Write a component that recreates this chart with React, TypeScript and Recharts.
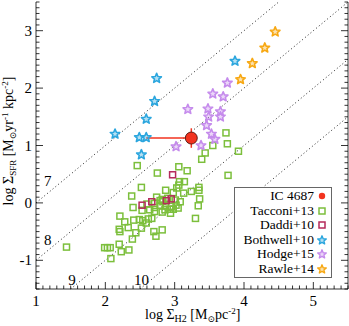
import React from 'react';
import { ScatterChart, Scatter, XAxis, YAxis, ReferenceLine, ReferenceDot, ErrorBar, Legend } from 'recharts';

const FONT = '"Liberation Serif", "DejaVu Serif", serif';

// IC 4687 (with asymmetric x error towards lower gas density)
const ic4687 = [{ x: 3.24, y: 1.13, ex: [0.65, 0], ey: 0.17 }];

const tacconi = [
  { x: 3.92, y: 0.9 }, { x: 3.74, y: 1.22 }, { x: 3.76, y: 1.03 }, { x: 3.55, y: 1.0 }, { x: 3.44, y: 0.87 },
  { x: 3.39, y: 0.76 }, { x: 3.77, y: 0.48 }, { x: 3.06, y: 0.63 }, { x: 3.18, y: 0.56 }, { x: 2.75, y: 0.52 },
  { x: 2.46, y: 0.65 }, { x: 3.14, y: 0.37 }, { x: 3.06, y: 0.31 }, { x: 3.03, y: 0.26 }, { x: 3.35, y: 0.27 },
  { x: 3.35, y: 0.22 }, { x: 3.24, y: 0.2 }, { x: 3.13, y: 0.17 }, { x: 2.98, y: 0.18 }, { x: 2.87, y: 0.22 },
  { x: 2.52, y: 0.27 }, { x: 2.38, y: 0.12 }, { x: 2.74, y: 0.1 }, { x: 2.79, y: 0.04 }, { x: 2.83, y: 0.02 },
  { x: 3.01, y: 0.05 }, { x: 3.08, y: 0.02 }, { x: 3.36, y: 0.07 }, { x: 2.71, y: -0.01 }, { x: 2.79, y: -0.04 },
  { x: 2.87, y: -0.05 }, { x: 2.95, y: -0.06 }, { x: 3.02, y: -0.04 }, { x: 3.34, y: -0.05 }, { x: 2.71, y: -0.08 },
  { x: 2.86, y: -0.12 }, { x: 2.93, y: -0.11 }, { x: 2.98, y: -0.11 }, { x: 2.4, y: -0.08 }, { x: 2.53, y: -0.13 },
  { x: 2.71, y: -0.15 }, { x: 2.82, y: -0.16 }, { x: 2.94, y: -0.18 }, { x: 3.3, y: -0.27 }, { x: 2.67, y: -0.27 },
  { x: 2.21, y: -0.23 }, { x: 2.28, y: -0.33 }, { x: 2.41, y: -0.3 }, { x: 2.49, y: -0.29 }, { x: 2.54, y: -0.31 },
  { x: 2.59, y: -0.35 }, { x: 2.62, y: -0.28 }, { x: 2.2, y: -0.46 }, { x: 2.21, y: -0.5 }, { x: 2.33, y: -0.43 },
  { x: 2.44, y: -0.52 }, { x: 2.52, y: -0.44 }, { x: 2.7, y: -0.5 }, { x: 2.82, y: -0.47 }, { x: 2.73, y: -0.58 },
  { x: 2.39, y: -0.63 }, { x: 2.2, y: -0.72 }, { x: 1.44, y: -0.77 }, { x: 1.99, y: -0.78 }, { x: 2.03, y: -0.78 },
  { x: 2.07, y: -0.78 }, { x: 2.34, y: -0.82 }, { x: 2.23, y: -0.85 }, { x: 2.08, y: -0.97 }, { x: 2.82, y: 0.06 },
  { x: 3.07, y: 0.37 }, { x: 3.05, y: -0.09 }, { x: 2.64, y: -0.12 }, { x: 2.6, y: -0.02 }, { x: 2.9, y: 0.08 },
];

const daddi = [
  { x: 2.53, y: -0.04 }, { x: 2.97, y: 0.49 }, { x: 2.67, y: 0.02 }, { x: 2.88, y: 0.04 }, { x: 2.95, y: 0.07 },
];

const bothwell = [
  { x: 2.74, y: 2.17 }, { x: 2.71, y: 1.77 }, { x: 2.59, y: 1.46 }, { x: 2.14, y: 1.2 }, { x: 2.49, y: 1.14 },
  { x: 2.59, y: 1.14 }, { x: 2.52, y: 0.84 }, { x: 3.87, y: 2.47 },
];

const hodge = [
  { x: 3.76, y: 2.09 }, { x: 3.55, y: 1.9 }, { x: 3.7, y: 1.85 }, { x: 3.19, y: 1.63 }, { x: 3.48, y: 1.64 },
  { x: 3.66, y: 1.59 }, { x: 3.49, y: 1.5 }, { x: 3.66, y: 1.5 }, { x: 3.46, y: 1.35 }, { x: 3.53, y: 1.2 },
  { x: 3.58, y: 1.11 }, { x: 3.38, y: 1.0 }, { x: 3.02, y: 0.98 },
];

const rawle = [
  { x: 4.45, y: 2.98 }, { x: 4.3, y: 2.7 }, { x: 4.12, y: 2.43 }, { x: 3.95, y: 2.15 },
];

// constant depletion time lines, log t_dep [yr]
const depletionLines = [
  { label: '7', from: { x: 1, y: 0 }, to: { x: 4.5, y: 3.5 }, at: { x: 1.17, y: 0.38 } },
  { label: '8', from: { x: 1, y: -1 }, to: { x: 5.5, y: 3.5 }, at: { x: 1.17, y: -0.65 } },
  { label: '9', from: { x: 1.5, y: -1.5 }, to: { x: 5.5, y: 2.5 }, at: { x: 1.52, y: -1.34 } },
  { label: '10', from: { x: 2.5, y: -1.5 }, to: { x: 5.5, y: 1.5 }, at: { x: 2.52, y: -1.34 } },
];

const xTicks = Array.from({ length: 46 }, (_, i) => Math.round((1 + i * 0.1) * 10) / 10);
const yTicks = Array.from({ length: 51 }, (_, i) => Math.round((-1.5 + i * 0.1) * 10) / 10);

const isMajor = (v: number) => Math.abs(v - Math.round(v)) < 1e-6;

const starPath = (cx: number, cy: number, R: number, r: number) => {
  let d = '';
  for (let i = 0; i < 10; i++) {
    const rad = i % 2 === 0 ? R : r;
    const a = -Math.PI / 2 + (i * Math.PI) / 5;
    d += (i === 0 ? 'M' : 'L') + (cx + rad * Math.cos(a)).toFixed(2) + ',' + (cy + rad * Math.sin(a)).toFixed(2);
  }
  return d + 'Z';
};

const Star = (color: string, R = 5) => (props: any) => {
  const { cx, cy } = props;
  if (cx == null || cy == null) return <g />;
  return <path d={starPath(cx, cy, R, R * 0.45)} fill={color} fillOpacity={0.35} stroke={color} strokeWidth={1.6} strokeLinejoin="round" />;
};

const Square = (color: string, s = 6) => (props: any) => {
  const { cx, cy } = props;
  if (cx == null || cy == null) return <g />;
  return <rect x={cx - s / 2} y={cy - s / 2} width={s} height={s} fill="none" stroke={color} strokeWidth={1.5} />;
};

const Dot = (props: any) => {
  const { cx, cy } = props;
  if (cx == null || cy == null) return <g />;
  return <circle cx={cx} cy={cy} r={6} fill="#f2331f" stroke="#3a0a05" strokeWidth={0.8} />;
};

const series = [
  { name: 'IC 4687', color: '#f2331f', kind: 'circle' },
  { name: 'Tacconi+13', color: '#7cbf3c', kind: 'square' },
  { name: 'Daddi+10', color: '#b52a5b', kind: 'square' },
  { name: 'Bothwell+10', color: '#2ba6de', kind: 'star' },
  { name: 'Hodge+15', color: '#c58bec', kind: 'star' },
  { name: 'Rawle+14', color: '#f7a813', kind: 'star' },
];

const BottomTick = (props: any) => {
  const { x, y, payload } = props;
  const v = payload.value;
  const major = isMajor(v);
  return (
    <g>
      <line x1={x} x2={x} y1={y} y2={y - (major ? 7 : 3.5)} stroke="#000" strokeWidth={0.8} />
      {major && (
        <text x={x} y={y + 17} textAnchor="middle" fontSize={15} fontFamily={FONT} fill="#000">{v}</text>
      )}
    </g>
  );
};

const TopTick = (props: any) => {
  const { x, y, payload } = props;
  const major = isMajor(payload.value);
  return <line x1={x} x2={x} y1={y} y2={y + (major ? 7 : 3.5)} stroke="#000" strokeWidth={0.8} />;
};

const LeftTick = (props: any) => {
  const { x, y, payload } = props;
  const v = payload.value;
  const major = isMajor(v);
  return (
    <g>
      <line x1={x} x2={x + (major ? 7 : 3.5)} y1={y} y2={y} stroke="#000" strokeWidth={0.8} />
      {major && (
        <text x={x - 4} y={y + 5} textAnchor="end" fontSize={15} fontFamily={FONT} fill="#000">{v}</text>
      )}
    </g>
  );
};

const RightTick = (props: any) => {
  const { x, y, payload } = props;
  const major = isMajor(payload.value);
  return <line x1={x} x2={x - (major ? 7 : 3.5)} y1={y} y2={y} stroke="#000" strokeWidth={0.8} />;
};

const XTitle = () => (
  <text x={145} y={319} fontSize={14} fontFamily={FONT} fill="#000">
    log Σ<tspan dy={3} fontSize={10}>H2</tspan>
    <tspan dy={-3}>{'  [M'}</tspan>
    <tspan dy={3} fontSize={9}>⊙</tspan>
    <tspan dy={-3}>pc</tspan>
    <tspan dy={-5} fontSize={9}>-2</tspan>
    <tspan dy={5}>]</tspan>
  </text>
);

const YTitle = () => (
  <text x={13} y={141} transform="rotate(-90, 13, 141)" textAnchor="middle" fontSize={14} fontFamily={FONT} fill="#000">
    log Σ<tspan dy={3} fontSize={9}>SFR</tspan>
    <tspan dy={-3}>{' [M'}</tspan>
    <tspan dy={3} fontSize={9}>⊙</tspan>
    <tspan dy={-3}>yr</tspan>
    <tspan dy={-5} fontSize={9}>-1</tspan>
    <tspan dy={5}> kpc</tspan>
    <tspan dy={-5} fontSize={9}>-2</tspan>
    <tspan dy={5}>]</tspan>
  </text>
);

const LegendIcon = ({ kind, color }: { kind: string; color: string }) => (
  <svg width={12} height={12} style={{ display: 'block', flex: 'none' }}>
    {kind === 'circle' && <circle cx={6} cy={6} r={3.2} fill={color} />}
    {kind === 'square' && <rect x={3} y={3} width={6} height={6} fill="none" stroke={color} strokeWidth={1.5} />}
    {kind === 'star' && (
      <path d={starPath(6, 6.3, 4.5, 2)} fill={color} fillOpacity={0.35} stroke={color} strokeWidth={1.4} strokeLinejoin="round" />
    )}
  </svg>
);

const LegendBox = () => (
  <div
    style={{
      border: '1px solid #666',
      background: '#fff',
      width: 96,
      padding: '1px 0 1px 0',
      fontFamily: FONT,
      fontSize: 13.5,
      color: '#000',
    }}
  >
    {series.map((s) => (
      <div
        key={s.name}
        style={{ display: 'flex', alignItems: 'center', justifyContent: 'flex-end', height: 14.5, lineHeight: '14.5px', paddingRight: 3 }}
      >
        <span style={{ marginRight: 2, whiteSpace: 'nowrap' }}>{s.name}</span>
        <LegendIcon kind={s.kind} color={s.color} />
      </div>
    ))}
  </div>
);

export default function App() {
  return (
    <div>
      <style>{'body{margin:0}'}</style>
      <ScatterChart width={349} height={326} margin={{ top: 2, right: 0, bottom: 0, left: 0 }}>
        <XAxis
          type="number"
          dataKey="x"
          domain={[1, 5.5]}
          ticks={xTicks}
          interval={0}
          allowDataOverflow
          height={37}
          tickSize={0}
          tickMargin={0}
          tickLine={false}
          axisLine={{ stroke: '#000', strokeWidth: 0.8 }}
          tick={<BottomTick />}
          label={<XTitle />}
        />
        <XAxis
          xAxisId="top"
          orientation="top"
          type="number"
          dataKey="x"
          domain={[1, 5.5]}
          ticks={xTicks}
          interval={0}
          allowDataOverflow
          height={0}
          tickSize={0}
          tickMargin={0}
          tickLine={false}
          axisLine={{ stroke: '#000', strokeWidth: 0.8 }}
          tick={<TopTick />}
        />
        <YAxis
          type="number"
          dataKey="y"
          domain={[-1.5, 3.5]}
          ticks={yTicks}
          interval={0}
          allowDataOverflow
          width={36}
          tickSize={0}
          tickMargin={0}
          tickLine={false}
          axisLine={{ stroke: '#000', strokeWidth: 0.8 }}
          tick={<LeftTick />}
          label={<YTitle />}
        />
        <YAxis
          yAxisId="right"
          orientation="right"
          type="number"
          dataKey="y"
          domain={[-1.5, 3.5]}
          ticks={yTicks}
          interval={0}
          allowDataOverflow
          width={1}
          tickSize={0}
          tickMargin={0}
          tickLine={false}
          axisLine={{ stroke: '#000', strokeWidth: 0.8 }}
          tick={<RightTick />}
        />
        {depletionLines.map((l) => (
          <ReferenceLine
            key={l.label}
            segment={[l.from, l.to]}
            stroke="#222"
            strokeWidth={1}
            strokeDasharray="1 2.6"
          />
        ))}
        {depletionLines.map((l) => (
          <ReferenceDot
            key={'lbl' + l.label}
            x={l.at.x}
            y={l.at.y}
            r={0}
            shape={(p: any) => (
              <text x={p.cx} y={p.cy + 5} textAnchor="middle" fontSize={15} fontFamily={FONT} fill="#000">{l.label}</text>
            )}
          />
        ))}
        <Scatter name="Tacconi+13" data={tacconi} shape={Square('#7cbf3c')} isAnimationActive={false} />
        <Scatter name="Daddi+10" data={daddi} shape={Square('#b52a5b')} isAnimationActive={false} />
        <Scatter name="Bothwell+10" data={bothwell} shape={Star('#2ba6de')} isAnimationActive={false} />
        <Scatter name="Hodge+15" data={hodge} shape={Star('#c58bec')} isAnimationActive={false} />
        <Scatter name="Rawle+14" data={rawle} shape={Star('#f7a813')} isAnimationActive={false} />
        <Scatter name="IC 4687" data={ic4687} shape={<Dot />} isAnimationActive={false}>
          <ErrorBar dataKey="ex" direction="x" width={0} stroke="#f2331f" strokeWidth={1.5} />
          <ErrorBar dataKey="ey" direction="y" width={0} stroke="#f2331f" strokeWidth={1.5} />
        </Scatter>
        <Legend
          layout="vertical"
          align="center"
          verticalAlign="middle"
          content={() => <LegendBox />}
          wrapperStyle={{ left: 234, top: 187, width: 98, height: 'auto' }}
        />
      </ScatterChart>
    </div>
  );
}
